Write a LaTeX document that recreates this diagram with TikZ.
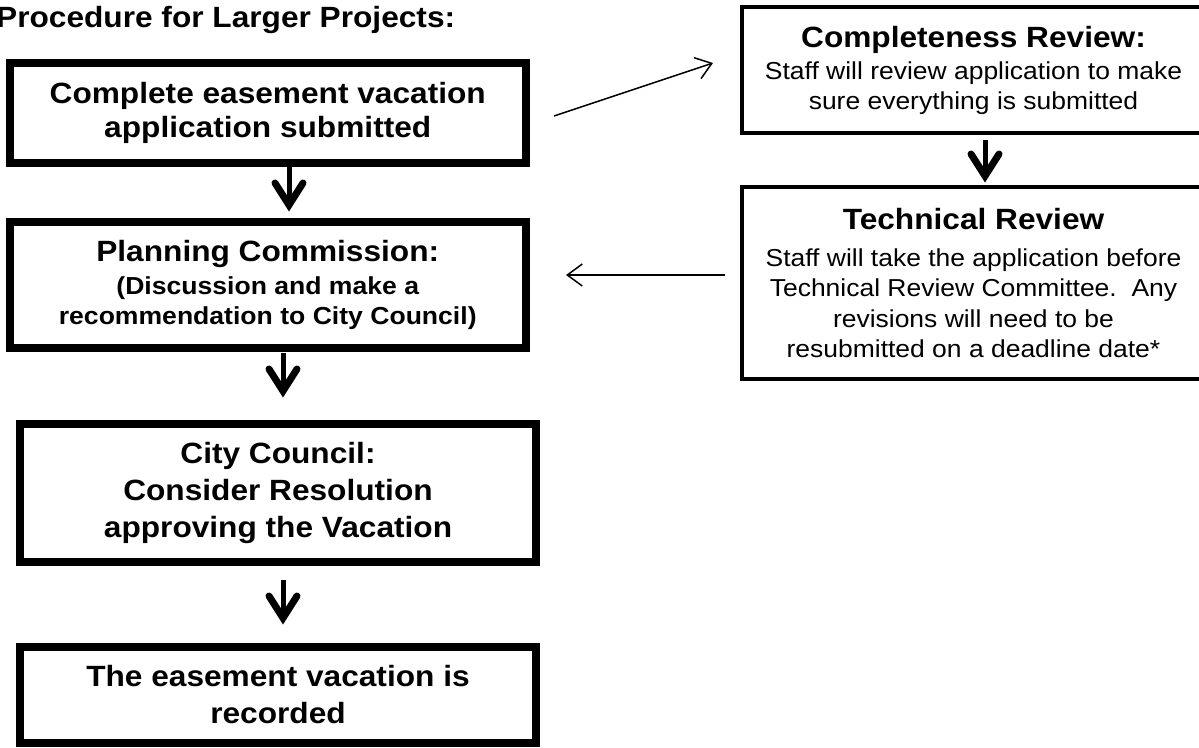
\documentclass[tikz,border=0pt]{standalone}
\usepackage{fontspec}
\setmainfont{Liberation Sans}[FakeStretch=1.08]
\usetikzlibrary{calc,arrows.meta}
\newcommand\headfont{\bfseries\fontsize{29.3}{34}\selectfont}
\tikzset{
  leftbox/.style={draw, rectangle, line width=8pt, outer sep=0pt, inner sep=0pt,
    align=center, font=\bfseries\fontsize{29.3}{34}\selectfont},
  rightbox/.style={draw, rectangle, line width=4.5pt, outer sep=0pt, inner sep=0pt,
    align=center, font=\fontsize{24.5}{30}\selectfont},
  thinarrow/.style={line width=1.5pt, -{Straight Barb[length=15pt,width=22pt,line width=1.5pt]}},
  shaftline/.style={line width=5pt},
  headline/.style={line width=7pt, line cap=round, line join=miter, miter limit=20},
}
\newcommand\thickdown[2]{%
  \draw[shaftline] (#1) -- ($(#2)+(0,-7)$);
  \draw[headline] ($(#2)+(-14,-29)$) -- ($(#2)+(0,-7)$) -- ($(#2)+(14,-29)$);
}
\begin{document}
\begin{tikzpicture}[x=1pt,y=-1pt]
  \fill[white] (0,0) rectangle (1199,747);
  \useasboundingbox (0,0) rectangle (1199,747);

  \node[anchor=base west, inner sep=0pt, font=\bfseries\fontsize{29.3}{34}\selectfont] (title) at (-4,27) {Procedure for Larger Projects:};

  \node[leftbox, minimum width=515.5pt, minimum height=100pt] (b1) at (267.75,113)
    {Complete easement vacation\\application submitted};
  \node[leftbox, minimum width=515.5pt, minimum height=126pt, font=\bfseries\fontsize{24.6}{30.5}\selectfont] (b2) at (267.75,285)
    {{\headfont Planning Commission:}\\[2pt](Discussion and make a\\recommendation to City Council)};
  \node[leftbox, minimum width=516pt, minimum height=138pt, font=\bfseries\fontsize{29.3}{37}\selectfont] (b3) at (278,493)
    {City Council:\\Consider Resolution\\approving the Vacation};
  \node[leftbox, minimum width=516pt, minimum height=96pt, font=\bfseries\fontsize{29.3}{37}\selectfont] (b4) at (278,695)
    {The easement vacation is\\recorded};

  \node[rightbox, minimum width=463pt, minimum height=126pt] (bA) at (973.5,70)
    {{\headfont Completeness Review:}\\[2pt]Staff will review application to make\\sure everything is submitted};
  \node[rightbox, minimum width=463pt, minimum height=192pt, font=\fontsize{24.5}{30.3}\selectfont] (bB) at (973.5,283)
    {{\headfont Technical Review}\\[6.7pt]Staff will take the application before\\Technical Review Committee.\ \ Any\\revisions will need to be\\resubmitted on a deadline date*};

  \thickdown{$(b1.south)+(21.25,4)$}{$(b2.north)+(21.25,-10)$}
  \thickdown{$(b2.south)+(15.25,5)$}{$(b3.north)+(5,-26)$}
  \thickdown{$(b3.south)+(5,18)$}{$(b4.north)+(5,-22)$}
  \thickdown{$(bA.south)+(11.5,7)$}{$(bB.north)+(11.5,-4)$}

  \draw[thinarrow] ($(b1.east)+(28.5,3)$) -- ($(bA.west)+(-29,-7)$);
  \draw[thinarrow] ($(bB.west)+(-17,-8)$) -- ($(b2.east)+(40.5,-10)$);
\end{tikzpicture}
\end{document}
